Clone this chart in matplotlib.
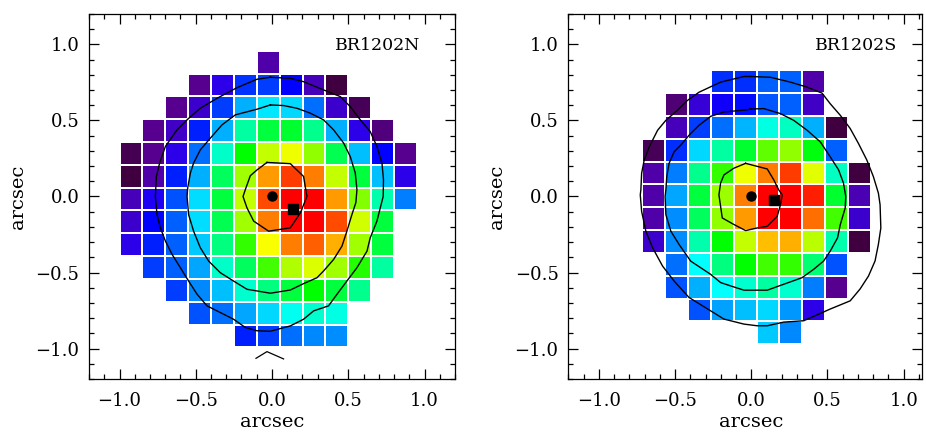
import numpy as np
import matplotlib
matplotlib.use("Agg")
import matplotlib.pyplot as plt
from matplotlib.colors import LinearSegmentedColormap
from matplotlib.ticker import MultipleLocator

n = np.nan

# Normalised line-intensity maps, rows listed top to bottom, columns left to right
north_map = [
    [n, n, n, n, n, n, 0.12, n, n, n, n, n, n],
    [n, n, n, 0.09, 0.19, 0.29, 0.30, 0.25, 0.14, 0.00, n, n, n],
    [n, n, 0.09, 0.16, 0.30, 0.388, 0.432, 0.42, 0.338, 0.16, 0.03, n, n],
    [n, 0.09, 0.15, 0.275, 0.388, 0.506, 0.563, 0.572, 0.516, 0.388, 0.19, 0.07, n],
    [0.02, 0.09, 0.19, 0.338, 0.483, 0.60, 0.75, 0.788, 0.713, 0.553, 0.40, 0.25, 0.09],
    [0.00, 0.12, 0.275, 0.388, 0.544, 0.725, 0.875, 0.95, 0.90, 0.75, 0.563, 0.40, 0.19],
    [0.14, 0.21, 0.313, 0.425, 0.563, 0.75, 0.938, 1.00, 1.00, 0.875, 0.70, 0.497, 0.35],
    [0.16, 0.25, 0.325, 0.425, 0.553, 0.725, 0.90, 1.00, 1.00, 0.938, 0.763, 0.563, n],
    [0.19, 0.275, 0.325, 0.407, 0.525, 0.638, 0.794, 0.90, 0.925, 0.862, 0.725, 0.563, n],
    [n, 0.30, 0.325, 0.382, 0.483, 0.544, 0.65, 0.738, 0.77, 0.725, 0.625, 0.506, n],
    [n, n, 0.30, 0.357, 0.40, 0.477, 0.525, 0.563, 0.60, 0.563, 0.516, n, n],
    [n, n, n, 0.313, 0.338, 0.382, 0.42, 0.459, 0.477, 0.468, n, n, n],
    [n, n, n, n, n, 0.275, 0.30, 0.338, 0.357, 0.363, n, n, n],
]

south_map = [
    [n, n, n, 0.288, 0.288, 0.325, 0.325, 0.12, n, n],
    [n, 0.06, 0.17, 0.23, 0.26, 0.32, 0.325, 0.15, n, n],
    [n, 0.14, 0.30, 0.338, 0.394, 0.468, 0.485, 0.388, 0.00, n],
    [0.03, 0.288, 0.42, 0.506, 0.572, 0.675, 0.713, 0.59, 0.325, n],
    [0.12, 0.35, 0.516, 0.638, 0.788, 0.90, 0.95, 0.775, 0.485, 0.00],
    [0.12, 0.382, 0.563, 0.72, 0.90, 1.00, 1.00, 0.975, 0.572, 0.13],
    [0.12, 0.363, 0.544, 0.713, 0.875, 1.00, 1.00, 0.912, 0.65, 0.16],
    [0.16, 0.363, 0.497, 0.60, 0.75, 0.85, 0.862, 0.745, 0.497, 0.00],
    [n, 0.338, 0.45, 0.525, 0.60, 0.65, 0.638, 0.535, 0.313, n],
    [n, 0.313, 0.388, 0.45, 0.477, 0.506, 0.477, 0.35, 0.09, n],
    [n, n, 0.313, 0.375, 0.40, 0.42, 0.37, 0.19, n, n],
    [n, n, n, n, n, 0.407, 0.357, n, n, n],
]

# Continuum contours (x, y in arcsec)
north_contours = [
    [(-0.011, 0.784), (0.120, 0.777), (0.207, 0.755), (0.338, 0.701), (0.448, 0.657),
     (0.513, 0.591), (0.579, 0.504), (0.644, 0.427), (0.688, 0.329), (0.721, 0.220),
     (0.731, 0.111), (0.729, 0.000), (0.710, -0.075), (0.688, -0.162), (0.644, -0.272),
     (0.623, -0.359), (0.557, -0.468), (0.491, -0.556), (0.426, -0.643), (0.371, -0.719),
     (0.273, -0.752), (0.207, -0.807), (0.120, -0.851), (-0.011, -0.886), (-0.098, -0.883),
     (-0.175, -0.861), (-0.252, -0.807), (-0.339, -0.763), (-0.426, -0.719), (-0.491, -0.643),
     (-0.547, -0.556), (-0.601, -0.468), (-0.655, -0.381), (-0.699, -0.293), (-0.732, -0.206),
     (-0.754, -0.119), (-0.765, 0.000), (-0.758, 0.132), (-0.737, 0.220), (-0.699, 0.329),
     (-0.623, 0.438), (-0.553, 0.508), (-0.470, 0.580), (-0.360, 0.646), (-0.229, 0.716),
     (-0.098, 0.771), (-0.011, 0.784)],
    [(-0.011, 0.602), (0.076, 0.598), (0.164, 0.580), (0.251, 0.548), (0.338, 0.504),
     (0.404, 0.438), (0.470, 0.351), (0.513, 0.263), (0.546, 0.155), (0.557, 0.045),
     (0.550, -0.040), (0.524, -0.119), (0.491, -0.228), (0.459, -0.326), (0.404, -0.414),
     (0.338, -0.490), (0.295, -0.534), (0.207, -0.573), (0.120, -0.615), (-0.011, -0.636),
     (-0.164, -0.610), (-0.252, -0.556), (-0.339, -0.501), (-0.415, -0.425), (-0.470, -0.337),
     (-0.514, -0.228), (-0.547, -0.119), (-0.557, 0.000), (-0.553, 0.056), (-0.535, 0.155),
     (-0.514, 0.220), (-0.470, 0.307), (-0.404, 0.384), (-0.328, 0.471), (-0.240, 0.537),
     (-0.098, 0.574), (-0.011, 0.602)],
    [(-0.033, 0.224), (0.120, 0.216), (0.207, 0.132), (0.229, 0.000), (0.186, -0.108),
     (0.120, -0.206), (-0.022, -0.228), (-0.120, -0.162), (-0.164, -0.075), (-0.190, 0.000),
     (-0.175, 0.045), (-0.142, 0.137), (-0.098, 0.175), (-0.033, 0.224)],
]
north_notch = [(-0.105, -1.064), (-0.033, -1.020), (0.076, -1.068)]

south_contours = [
    [(-0.005, 0.789), (0.126, 0.784), (0.257, 0.752), (0.366, 0.719), (0.464, 0.680),
     (0.518, 0.610), (0.584, 0.534), (0.649, 0.447), (0.703, 0.349), (0.758, 0.240),
     (0.801, 0.131), (0.834, 0.022), (0.845, -0.054), (0.850, -0.207), (0.834, -0.314),
     (0.812, -0.424), (0.769, -0.523), (0.714, -0.608), (0.649, -0.686), (0.518, -0.740),
     (0.344, -0.817), (0.213, -0.826), (0.105, -0.850), (0.039, -0.850), (-0.048, -0.839),
     (-0.179, -0.806), (-0.266, -0.752), (-0.408, -0.664), (-0.506, -0.556), (-0.582, -0.457),
     (-0.647, -0.337), (-0.691, -0.229), (-0.719, -0.098), (-0.728, 0.011), (-0.724, 0.044),
     (-0.719, 0.153), (-0.702, 0.240), (-0.669, 0.327), (-0.614, 0.436), (-0.560, 0.501),
     (-0.484, 0.567), (-0.418, 0.632), (-0.342, 0.686), (-0.201, 0.752), (-0.048, 0.789),
     (-0.005, 0.789)],
    [(-0.005, 0.575), (0.082, 0.578), (0.192, 0.545), (0.278, 0.501), (0.366, 0.436),
     (0.453, 0.359), (0.518, 0.261), (0.573, 0.175), (0.605, 0.088), (0.620, 0.000),
     (0.616, -0.076), (0.584, -0.185), (0.566, -0.272), (0.518, -0.359), (0.475, -0.424),
     (0.409, -0.479), (0.333, -0.534), (0.213, -0.577), (0.105, -0.616), (-0.048, -0.616),
     (-0.135, -0.588), (-0.201, -0.566), (-0.266, -0.512), (-0.397, -0.425), (-0.473, -0.316),
     (-0.527, -0.229), (-0.560, -0.120), (-0.565, 0.000), (-0.560, 0.044), (-0.554, 0.131),
     (-0.539, 0.218), (-0.506, 0.294), (-0.462, 0.338), (-0.408, 0.403), (-0.342, 0.469),
     (-0.266, 0.527), (-0.179, 0.556), (-0.026, 0.570), (-0.005, 0.575)],
    [(-0.037, 0.218), (0.105, 0.181), (0.148, 0.109), (0.180, 0.044), (0.203, 0.011),
     (0.192, -0.054), (0.170, -0.131), (0.105, -0.196), (0.039, -0.207), (-0.037, -0.224),
     (-0.114, -0.184), (-0.190, -0.141), (-0.212, 0.011), (-0.201, 0.088), (-0.179, 0.142),
     (-0.114, 0.186), (-0.037, 0.218)],
]

# Reference positions (arcsec): optical/continuum centre and line peak
north_centre = (0.0, 0.0)
north_peak = (0.135, -0.080)
south_centre = (0.0, 0.0)
south_peak = (0.152, -0.022)

north_name = "BR1202N"
south_name = "BR1202S"

# IDL-style rainbow colour table
cmap = LinearSegmentedColormap.from_list("idl_rainbow", [
    (0.00, (0.25, 0.0, 0.25)),
    (0.10, (0.35, 0.0, 0.60)),
    (0.20, (0.15, 0.0, 0.95)),
    (0.25, (0.0, 0.0, 1.0)),
    (0.45, (0.0, 1.0, 1.0)),
    (0.60, (0.0, 1.0, 0.0)),
    (0.80, (1.0, 1.0, 0.0)),
    (1.00, (1.0, 0.0, 0.0)),
])

plt.rcParams['font.family'] = ['DejaVu Serif']
PIX = 0.15  # spaxel size in arcsec

fig = plt.figure(figsize=(9.26, 4.32), dpi=100)
W, H = 926.0, 432.0
ax1 = fig.add_axes([89 / W, 53 / H, 366 / W, 365 / H])
ax2 = fig.add_axes([568.3 / W, 53 / H, 353.7 / W, 365 / H])


def draw_panel(ax, data, x_left, y_top, contours, centre, peak, name, xlim):
    arr = np.ma.masked_invalid(np.array(data, dtype=float))
    nr, nc = arr.shape
    xe = x_left + PIX * np.arange(nc + 1)
    ye = y_top - PIX * np.arange(nr + 1)
    ax.pcolormesh(xe, ye, arr, cmap=cmap, vmin=0.0, vmax=1.0,
                  edgecolors='white', linewidth=1.1, zorder=1)
    for c in contours:
        c = np.array(c)
        ax.plot(c[:, 0], c[:, 1], color='black', lw=1.0, zorder=3)
    ax.plot(*centre, marker='o', color='black', ms=6.5, zorder=4)
    ax.plot(*peak, marker='s', color='black', ms=7.0, zorder=4)
    ax.text(0.69, 0.995, name, ha='center', va='center', fontsize=12.5, zorder=5)

    ax.set_xlim(*xlim)
    ax.set_ylim(-1.2, 1.2)
    ax.xaxis.set_major_locator(MultipleLocator(0.5))
    ax.xaxis.set_minor_locator(MultipleLocator(0.1))
    ax.yaxis.set_major_locator(MultipleLocator(0.5))
    ax.yaxis.set_minor_locator(MultipleLocator(0.1))
    ax.tick_params(which='both', direction='in', top=True, right=True,
                   width=0.9, labelsize=13)
    ax.tick_params(which='major', length=7.5)
    ax.tick_params(which='minor', length=3.8)
    ax.tick_params(axis='x', pad=9)
    ax.tick_params(axis='y', pad=7)
    for s in ax.spines.values():
        s.set_linewidth(0.9)
    ax.set_xlabel('arcsec', fontsize=14)
    ax.set_ylabel('arcsec', fontsize=14)


draw_panel(ax1, north_map, -1.0, 0.958, north_contours, north_centre,
           north_peak, north_name, (-1.2, 1.2))
nn = np.array(north_notch)
ax1.plot(nn[:, 0], nn[:, 1], color='black', lw=0.9, zorder=3)

draw_panel(ax2, south_map, -0.715, 0.829, south_contours, south_centre,
           south_peak, south_name, (-1.2, 1.12))

ax1.yaxis.set_label_coords(-0.17, 0.5)
ax1.xaxis.set_label_coords(0.5, -0.093)
ax2.yaxis.set_label_coords(-0.175, 0.5)
ax2.xaxis.set_label_coords((750.7 - 568.3) / 353.7, -0.093)

fig.savefig("out.png", dpi=100)
